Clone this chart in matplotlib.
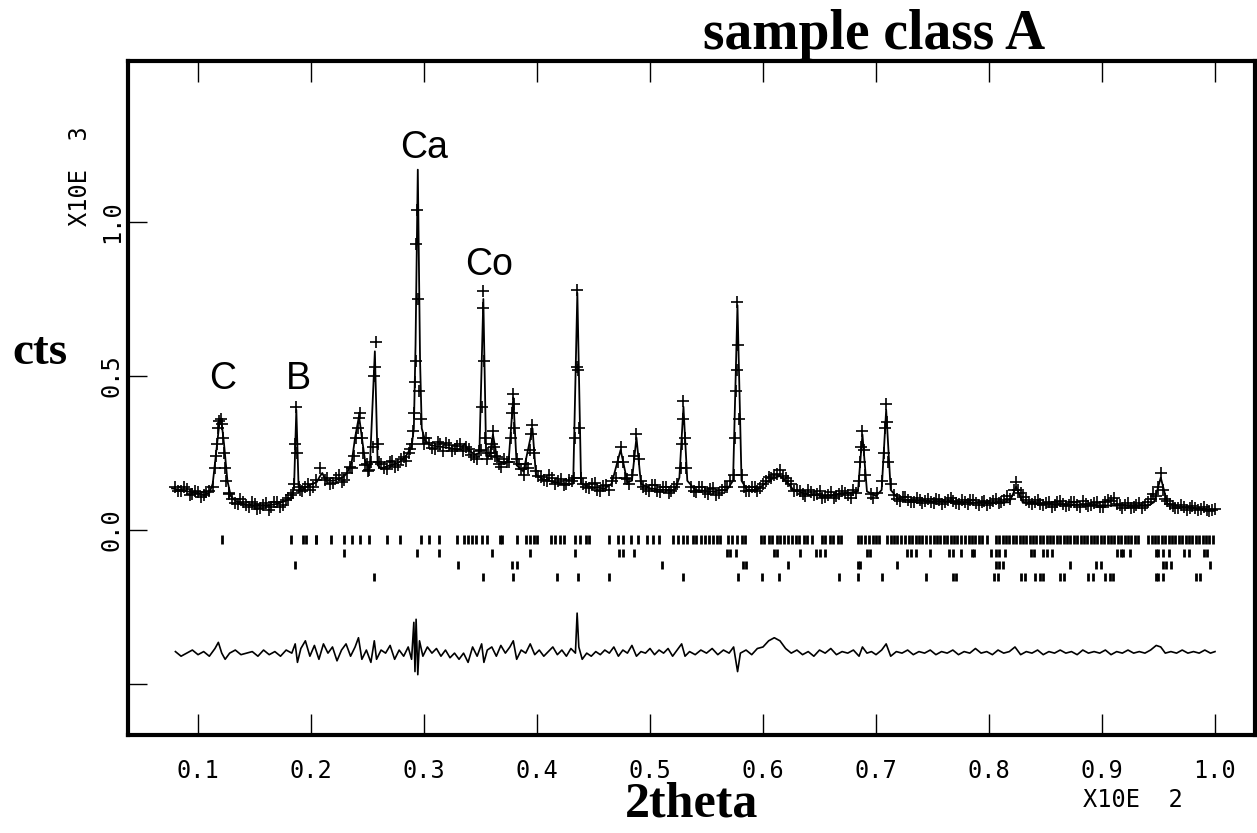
import numpy as np
import matplotlib
matplotlib.use("Agg")
import matplotlib.pyplot as plt

# observed points, background part (2theta x 1e-2, counts x 1e3)
obs_bg_x = [0.080, 0.085, 0.090, 0.095, 0.100, 0.105, 0.110,
            0.130, 0.135, 0.140, 0.145, 0.150, 0.155, 0.160, 0.165, 0.170, 0.175, 0.180,
            0.192, 0.197, 0.202, 0.208, 0.212, 0.217, 0.222, 0.227, 0.232,
            0.250, 0.262, 0.267, 0.272, 0.277, 0.282, 0.287,
            0.302, 0.307, 0.312, 0.317, 0.322, 0.327, 0.332, 0.337, 0.342, 0.347,
            0.357, 0.366, 0.371, 0.386, 0.390,
            0.401, 0.406, 0.411, 0.416, 0.421, 0.426, 0.431,
            0.441, 0.446, 0.451, 0.456, 0.461, 0.466, 0.480,
            0.494, 0.499, 0.504, 0.509, 0.514, 0.519, 0.524,
            0.536, 0.541, 0.546, 0.551, 0.556, 0.561, 0.566, 0.571,
            0.585, 0.590, 0.595, 0.600, 0.605, 0.610, 0.615, 0.620, 0.625, 0.630,
            0.635, 0.640, 0.645, 0.650, 0.655, 0.660, 0.665, 0.670, 0.675, 0.680,
            0.696, 0.716, 0.721, 0.726, 0.731, 0.736, 0.741, 0.746, 0.751, 0.756,
            0.761, 0.766, 0.771, 0.776, 0.781, 0.786, 0.791, 0.796, 0.801, 0.806,
            0.811, 0.816, 0.828, 0.833, 0.838, 0.843, 0.848, 0.853, 0.858, 0.863,
            0.868, 0.873, 0.878, 0.883, 0.888, 0.893, 0.898, 0.903, 0.908, 0.913,
            0.918, 0.923, 0.928, 0.933, 0.938, 0.943,
            0.960, 0.965, 0.970, 0.975, 0.980, 0.985, 0.990, 0.995, 1.000]
obs_bg_y = [0.138, 0.128, 0.133, 0.118, 0.124, 0.112, 0.128,
            0.100, 0.085, 0.092, 0.075, 0.083, 0.070, 0.086, 0.074, 0.090, 0.082, 0.105,
            0.128, 0.150, 0.138, 0.200, 0.162, 0.148, 0.170, 0.155, 0.185,
            0.190, 0.215, 0.198, 0.225, 0.210, 0.238, 0.250,
            0.300, 0.265, 0.285, 0.258, 0.276, 0.262, 0.280, 0.270, 0.245, 0.232,
            0.250, 0.215, 0.232, 0.198, 0.215,
            0.175, 0.162, 0.178, 0.150, 0.165, 0.148, 0.160,
            0.150, 0.135, 0.152, 0.128, 0.145, 0.160, 0.165,
            0.140, 0.128, 0.146, 0.122, 0.140, 0.125, 0.150,
            0.140, 0.122, 0.138, 0.118, 0.135, 0.120, 0.140, 0.160,
            0.125, 0.140, 0.128, 0.150, 0.172, 0.180, 0.195, 0.170, 0.150, 0.130,
            0.118, 0.130, 0.112, 0.125, 0.108, 0.122, 0.110, 0.125, 0.112, 0.130,
            0.118, 0.112, 0.095, 0.108, 0.090, 0.104, 0.088, 0.100, 0.086, 0.098,
            0.090, 0.105, 0.088, 0.098, 0.085, 0.096, 0.082, 0.094, 0.088, 0.100,
            0.092, 0.110, 0.120, 0.098, 0.085, 0.096, 0.080, 0.092, 0.082, 0.095,
            0.078, 0.090, 0.080, 0.094, 0.078, 0.088, 0.076, 0.090, 0.095, 0.085,
            0.072, 0.086, 0.074, 0.088, 0.080, 0.100,
            0.085, 0.070, 0.082, 0.066, 0.078, 0.064, 0.074, 0.060, 0.068]

# second interleaved set of background points
obs_bg2_x = [0.0825, 0.0875, 0.0925, 0.0975, 0.1025, 0.1075,
             0.1275, 0.1325, 0.1375, 0.1425, 0.1475, 0.1525, 0.1575, 0.1625, 0.1675, 0.1725, 0.1775, 0.1825,
             0.1945, 0.1995, 0.2045, 0.2145, 0.2195, 0.2245, 0.2295, 0.2345,
             0.2495, 0.2515, 0.2645, 0.2695, 0.2745, 0.2795, 0.2845, 0.2875,
             0.3045, 0.3095, 0.3145, 0.3195, 0.3245, 0.3295, 0.3345, 0.3395, 0.3445, 0.3485,
             0.3555, 0.3645, 0.3685, 0.3735, 0.3845, 0.3885,
             0.4035, 0.4085, 0.4135, 0.4185, 0.4235, 0.4285,
             0.4435, 0.4485, 0.4535, 0.4585, 0.4635, 0.4815,
             0.4965, 0.5015, 0.5065, 0.5115, 0.5165, 0.5215,
             0.5385, 0.5435, 0.5485, 0.5535, 0.5585, 0.5635, 0.5685,
             0.5835, 0.5875, 0.5925, 0.5975, 0.6025, 0.6075, 0.6125, 0.6175, 0.6225, 0.6275,
             0.6325, 0.6375, 0.6425, 0.6475, 0.6525, 0.6575, 0.6625, 0.6675, 0.6725, 0.6775, 0.6825,
             0.6975, 0.7005, 0.7185, 0.7235, 0.7285, 0.7335, 0.7385, 0.7435, 0.7485, 0.7535,
             0.7585, 0.7635, 0.7685, 0.7735, 0.7785, 0.7835, 0.7885, 0.7935, 0.7985, 0.8035,
             0.8085, 0.8135, 0.8185,
             0.8305, 0.8355, 0.8405, 0.8455, 0.8505, 0.8555, 0.8605, 0.8655, 0.8705, 0.8755,
             0.8805, 0.8855, 0.8905, 0.8955, 0.9005, 0.9055, 0.9105, 0.9155, 0.9205, 0.9255,
             0.9305, 0.9355, 0.9405, 0.9455,
             0.9575, 0.9625, 0.9675, 0.9725, 0.9775, 0.9825, 0.9875, 0.9925, 0.9975]
obs_bg2_y = [0.125, 0.140, 0.115, 0.128, 0.108, 0.122,
             0.118, 0.088, 0.100, 0.080, 0.090, 0.068, 0.082, 0.066, 0.092, 0.076, 0.098, 0.112,
             0.140, 0.130, 0.162, 0.170, 0.152, 0.178, 0.162, 0.205,
             0.215, 0.195, 0.202, 0.222, 0.205, 0.230, 0.225, 0.262,
             0.282, 0.262, 0.278, 0.282, 0.255, 0.272, 0.255, 0.262, 0.238, 0.255,
             0.232, 0.238, 0.205, 0.222, 0.215, 0.180,
             0.172, 0.158, 0.168, 0.160, 0.145, 0.162,
             0.140, 0.148, 0.130, 0.142, 0.130, 0.150,
             0.132, 0.145, 0.128, 0.138, 0.120, 0.138,
             0.128, 0.140, 0.122, 0.132, 0.115, 0.130, 0.138,
             0.140, 0.125, 0.138, 0.135, 0.160, 0.168, 0.182, 0.175, 0.158, 0.125,
             0.125, 0.110, 0.122, 0.118, 0.105, 0.115, 0.105, 0.118, 0.120, 0.105, 0.120,
             0.105, 0.120, 0.100, 0.108, 0.098, 0.092, 0.098, 0.095, 0.090, 0.100,
             0.084, 0.098, 0.095, 0.084, 0.092, 0.098, 0.086, 0.092, 0.080, 0.095,
             0.086, 0.098, 0.102,
             0.108, 0.090, 0.092, 0.085, 0.088, 0.076, 0.090, 0.084, 0.082, 0.092,
             0.076, 0.085, 0.082, 0.090, 0.074, 0.098, 0.104, 0.080, 0.082, 0.070,
             0.080, 0.072, 0.090, 0.118,
             0.095, 0.078, 0.072, 0.076, 0.070, 0.072, 0.068, 0.066, 0.064]

# observed points on the Bragg peaks
obs_pk_x = [0.113, 0.115, 0.116, 0.117, 0.118, 0.119, 0.120, 0.121, 0.122, 0.123, 0.124, 0.125, 0.127,
            0.184, 0.185, 0.186, 0.187, 0.188, 0.189, 0.190,
            0.236, 0.238, 0.240, 0.2415, 0.2425, 0.2435, 0.245, 0.246, 0.248,
            0.253, 0.255, 0.256, 0.257, 0.2575, 0.259, 0.260,
            0.289, 0.2905, 0.291, 0.292, 0.2925, 0.293, 0.294, 0.295, 0.296, 0.297, 0.299, 0.300,
            0.350, 0.351, 0.352, 0.3525, 0.353, 0.354,
            0.359, 0.360, 0.361, 0.362, 0.363,
            0.375, 0.377, 0.378, 0.379, 0.3795, 0.380, 0.382,
            0.392, 0.394, 0.395, 0.396, 0.397, 0.399,
            0.433, 0.434, 0.435, 0.4357, 0.4365, 0.437, 0.439,
            0.470, 0.472, 0.474, 0.476, 0.478,
            0.484, 0.486, 0.488, 0.490, 0.492,
            0.527, 0.528, 0.529, 0.5296, 0.531, 0.532,
            0.574, 0.575, 0.576, 0.577, 0.5774, 0.578, 0.579, 0.581,
            0.685, 0.686, 0.687, 0.688, 0.689, 0.690,
            0.705, 0.707, 0.708, 0.709, 0.710, 0.711, 0.713,
            0.822, 0.824, 0.826,
            0.948, 0.950, 0.952, 0.954, 0.956]
obs_pk_y = [0.14, 0.20, 0.24, 0.28, 0.33, 0.355, 0.36, 0.345, 0.30, 0.25, 0.20, 0.16, 0.12,
            0.12, 0.15, 0.28, 0.40, 0.25, 0.14, 0.13,
            0.20, 0.24, 0.30, 0.33, 0.365, 0.38, 0.30, 0.25, 0.21,
            0.22, 0.27, 0.50, 0.53, 0.61, 0.28, 0.22,
            0.28, 0.32, 0.38, 0.48, 0.55, 0.93, 1.04, 0.75, 0.45, 0.36, 0.30, 0.28,
            0.26, 0.40, 0.72, 0.776, 0.55, 0.30,
            0.25, 0.28, 0.32, 0.27, 0.24,
            0.22, 0.30, 0.38, 0.44, 0.41, 0.33, 0.23,
            0.20, 0.26, 0.31, 0.34, 0.25, 0.19,
            0.17, 0.30, 0.53, 0.78, 0.52, 0.33, 0.17,
            0.17, 0.22, 0.27, 0.22, 0.17,
            0.18, 0.24, 0.31, 0.23, 0.16,
            0.20, 0.28, 0.36, 0.42, 0.30, 0.20,
            0.18, 0.30, 0.45, 0.52, 0.74, 0.60, 0.36, 0.18,
            0.16, 0.22, 0.27, 0.32, 0.26, 0.18,
            0.16, 0.25, 0.33, 0.41, 0.35, 0.22, 0.15,
            0.13, 0.155, 0.13,
            0.11, 0.14, 0.185, 0.13, 0.10]

# calculated profile
calc_x = [0.077, 0.085, 0.095, 0.105, 0.110, 0.113, 0.116, 0.119, 0.1205, 0.123, 0.126, 0.129,
          0.133, 0.140, 0.150, 0.160, 0.170, 0.178, 0.183, 0.185, 0.187, 0.189, 0.192, 0.198,
          0.205, 0.208, 0.210, 0.213, 0.220, 0.228, 0.232, 0.236, 0.239, 0.2425, 0.245, 0.248,
          0.252, 0.2565, 0.259, 0.262, 0.270, 0.278, 0.284, 0.289, 0.291, 0.2925, 0.2945, 0.2965,
          0.298, 0.301, 0.306, 0.315, 0.325, 0.333, 0.336, 0.339, 0.345, 0.349, 0.3525, 0.355,
          0.358, 0.361, 0.365, 0.372, 0.375, 0.379, 0.382, 0.388, 0.396, 0.399, 0.405, 0.415,
          0.425, 0.432, 0.4357, 0.439, 0.447, 0.460, 0.466, 0.474, 0.480, 0.484, 0.488, 0.492,
          0.500, 0.510, 0.522, 0.526, 0.5296, 0.533, 0.540, 0.555, 0.568, 0.5735, 0.5774, 0.581,
          0.586, 0.595, 0.603, 0.610, 0.615, 0.620, 0.627, 0.640, 0.655, 0.665, 0.684, 0.688,
          0.692, 0.700, 0.705, 0.709, 0.713, 0.720, 0.740, 0.760, 0.780, 0.800, 0.818, 0.824,
          0.830, 0.850, 0.880, 0.900, 0.920, 0.940, 0.946, 0.952, 0.958, 0.970, 0.985, 1.000]
calc_y = [0.135, 0.130, 0.122, 0.115, 0.120, 0.150, 0.250, 0.350, 0.360, 0.280, 0.160, 0.110,
          0.095, 0.085, 0.078, 0.078, 0.085, 0.095, 0.105, 0.140, 0.390, 0.140, 0.130, 0.145,
          0.155, 0.175, 0.185, 0.160, 0.160, 0.170, 0.185, 0.220, 0.300, 0.370, 0.300, 0.220,
          0.200, 0.580, 0.210, 0.200, 0.210, 0.220, 0.240, 0.270, 0.330, 0.600, 1.170, 0.550,
          0.330, 0.290, 0.275, 0.270, 0.265, 0.260, 0.280, 0.260, 0.245, 0.250, 0.750, 0.240,
          0.240, 0.310, 0.225, 0.215, 0.230, 0.430, 0.210, 0.190, 0.330, 0.180, 0.165, 0.155,
          0.150, 0.150, 0.770, 0.150, 0.140, 0.135, 0.150, 0.260, 0.155, 0.160, 0.300, 0.150,
          0.135, 0.130, 0.130, 0.170, 0.400, 0.160, 0.130, 0.125, 0.130, 0.160, 0.730, 0.160,
          0.130, 0.130, 0.155, 0.170, 0.175, 0.160, 0.130, 0.115, 0.110, 0.115, 0.125, 0.310,
          0.125, 0.110, 0.130, 0.390, 0.130, 0.100, 0.095, 0.092, 0.090, 0.087, 0.090, 0.140,
          0.088, 0.085, 0.082, 0.080, 0.078, 0.078, 0.090, 0.170, 0.085, 0.075, 0.070, 0.065]

# difference curve (obs - calc), shifted below the pattern
diff_x = [0.080, 0.085, 0.090, 0.095, 0.100, 0.105, 0.110, 0.115, 0.118, 0.121, 0.124, 0.128,
          0.133, 0.138, 0.143, 0.148, 0.153, 0.158, 0.163, 0.168, 0.173, 0.178, 0.183, 0.186,
          0.188, 0.191, 0.195, 0.199, 0.203, 0.207, 0.211, 0.215, 0.219, 0.223, 0.227, 0.231,
          0.235, 0.239, 0.242, 0.245, 0.249, 0.253, 0.256, 0.258, 0.262, 0.266, 0.270, 0.274,
          0.278, 0.282, 0.286, 0.289, 0.291, 0.292, 0.293, 0.2945, 0.296, 0.299, 0.303, 0.307,
          0.311, 0.315, 0.319, 0.323, 0.327, 0.331, 0.335, 0.339, 0.343, 0.347, 0.351, 0.353,
          0.356, 0.360, 0.364, 0.368, 0.372, 0.376, 0.379, 0.382, 0.386, 0.390, 0.394, 0.398,
          0.402, 0.406, 0.410, 0.414, 0.418, 0.422, 0.426, 0.430, 0.434, 0.4355, 0.437, 0.440,
          0.444, 0.448, 0.452, 0.456, 0.460, 0.464, 0.468, 0.472, 0.476, 0.480, 0.484, 0.488,
          0.492, 0.496, 0.500, 0.504, 0.508, 0.512, 0.516, 0.520, 0.524, 0.528, 0.531, 0.535,
          0.540, 0.545, 0.550, 0.555, 0.560, 0.565, 0.570, 0.574, 0.5775, 0.580, 0.585, 0.590,
          0.595, 0.600, 0.605, 0.610, 0.615, 0.620, 0.625, 0.630, 0.635, 0.640, 0.645, 0.650,
          0.655, 0.660, 0.665, 0.670, 0.675, 0.680, 0.685, 0.688, 0.692, 0.696, 0.700, 0.705,
          0.709, 0.713, 0.718, 0.723, 0.728, 0.733, 0.738, 0.743, 0.748, 0.753, 0.758, 0.763,
          0.768, 0.773, 0.778, 0.783, 0.788, 0.793, 0.798, 0.803, 0.808, 0.813, 0.818, 0.823,
          0.828, 0.833, 0.838, 0.843, 0.848, 0.853, 0.858, 0.863, 0.868, 0.873, 0.878, 0.883,
          0.888, 0.893, 0.898, 0.903, 0.908, 0.913, 0.918, 0.923, 0.928, 0.933, 0.938, 0.943,
          0.948, 0.952, 0.956, 0.961, 0.966, 0.971, 0.976, 0.981, 0.986, 0.991, 0.996, 1.000]
diff_y = [-0.395, -0.410, -0.400, -0.390, -0.405, -0.395, -0.410, -0.385, -0.365, -0.400, -0.420, -0.400,
          -0.390, -0.405, -0.400, -0.395, -0.410, -0.390, -0.405, -0.395, -0.410, -0.390, -0.400, -0.370,
          -0.430, -0.385, -0.360, -0.410, -0.375, -0.420, -0.370, -0.400, -0.380, -0.425, -0.390, -0.370,
          -0.410, -0.380, -0.350, -0.420, -0.390, -0.430, -0.360, -0.420, -0.390, -0.400, -0.375, -0.420,
          -0.390, -0.410, -0.380, -0.420, -0.300, -0.460, -0.290, -0.470, -0.360, -0.410, -0.380, -0.400,
          -0.385, -0.410, -0.390, -0.415, -0.400, -0.420, -0.400, -0.430, -0.380, -0.410, -0.370, -0.430,
          -0.390, -0.380, -0.410, -0.375, -0.400, -0.380, -0.360, -0.420, -0.390, -0.400, -0.370, -0.405,
          -0.390, -0.410, -0.395, -0.380, -0.405, -0.390, -0.410, -0.385, -0.400, -0.270, -0.380, -0.420,
          -0.400, -0.410, -0.395, -0.405, -0.390, -0.400, -0.380, -0.410, -0.390, -0.400, -0.375, -0.410,
          -0.395, -0.400, -0.385, -0.405, -0.390, -0.400, -0.385, -0.410, -0.390, -0.370, -0.410, -0.395,
          -0.405, -0.390, -0.400, -0.385, -0.405, -0.390, -0.400, -0.380, -0.460, -0.400, -0.390, -0.405,
          -0.385, -0.380, -0.360, -0.350, -0.360, -0.385, -0.400, -0.390, -0.405, -0.395, -0.410, -0.390,
          -0.400, -0.385, -0.405, -0.395, -0.400, -0.390, -0.410, -0.380, -0.400, -0.395, -0.405, -0.390,
          -0.370, -0.410, -0.395, -0.400, -0.390, -0.405, -0.395, -0.400, -0.390, -0.405, -0.395, -0.400,
          -0.390, -0.405, -0.395, -0.400, -0.385, -0.400, -0.395, -0.405, -0.390, -0.400, -0.395, -0.380,
          -0.405, -0.395, -0.400, -0.390, -0.405, -0.395, -0.400, -0.390, -0.400, -0.395, -0.405, -0.390,
          -0.400, -0.395, -0.400, -0.390, -0.405, -0.395, -0.400, -0.390, -0.400, -0.395, -0.400, -0.390,
          -0.375, -0.380, -0.400, -0.395, -0.400, -0.390, -0.400, -0.395, -0.400, -0.390, -0.400, -0.395]

# reflection positions, one list per phase row
refl_1 = [0.121, 0.182, 0.193, 0.196, 0.204, 0.2045, 0.218, 0.229, 0.236, 0.2435, 0.2515, 0.267,
          0.279, 0.2975, 0.304, 0.3135, 0.329, 0.3356, 0.339, 0.3427, 0.3462, 0.3515, 0.356, 0.3675,
          0.369, 0.382, 0.3905, 0.394, 0.3976, 0.400, 0.4127, 0.416, 0.4206, 0.424, 0.434, 0.438,
          0.443, 0.446, 0.464, 0.472, 0.4765, 0.483, 0.489, 0.497, 0.503, 0.508, 0.5207, 0.525,
          0.5296, 0.533, 0.538, 0.541, 0.545, 0.549, 0.552, 0.556, 0.559, 0.562,
          0.569, 0.573, 0.577, 0.581, 0.584,
          0.598, 0.601, 0.605, 0.608, 0.612, 0.615, 0.619, 0.622, 0.626, 0.629, 0.632, 0.636, 0.639, 0.643,
          0.652, 0.655, 0.659, 0.662, 0.666, 0.669,
          0.684, 0.687, 0.690, 0.694, 0.697, 0.700, 0.703,
          0.710, 0.713, 0.716, 0.719, 0.722, 0.726, 0.729, 0.732, 0.735, 0.738, 0.741, 0.744, 0.748,
          0.751, 0.754, 0.757, 0.760, 0.763, 0.766, 0.769, 0.772, 0.775, 0.779, 0.782, 0.785, 0.788,
          0.791, 0.794, 0.798,
          0.806, 0.809, 0.812, 0.815, 0.818, 0.821, 0.824, 0.827, 0.830, 0.833, 0.836, 0.839, 0.842,
          0.845, 0.848, 0.851, 0.854, 0.857, 0.860, 0.863, 0.866, 0.869, 0.872, 0.875, 0.878, 0.881,
          0.884, 0.887, 0.890, 0.893, 0.896, 0.899, 0.902, 0.905, 0.908, 0.911, 0.914, 0.917, 0.920,
          0.923, 0.926, 0.929, 0.932,
          0.941, 0.944, 0.947, 0.950, 0.953, 0.956, 0.959, 0.962, 0.965, 0.968, 0.971, 0.974, 0.977,
          0.980, 0.983, 0.986, 0.989, 0.992, 0.995, 0.998]
refl_2 = [0.229, 0.294, 0.3135, 0.360, 0.394, 0.434, 0.473, 0.4765, 0.486,
          0.568, 0.571, 0.576, 0.610, 0.612, 0.633, 0.647, 0.650, 0.655, 0.692, 0.695,
          0.727, 0.731, 0.735, 0.748, 0.765, 0.768, 0.775, 0.785, 0.787, 0.802, 0.806, 0.809,
          0.814, 0.837, 0.840, 0.848, 0.851, 0.856, 0.913, 0.917, 0.919, 0.925, 0.948, 0.950,
          0.954, 0.959, 0.973, 0.977, 0.990, 0.993]
refl_3 = [0.186, 0.330, 0.378, 0.382, 0.511, 0.582, 0.585, 0.622, 0.684, 0.686, 0.719,
          0.806, 0.809, 0.812, 0.872, 0.895, 0.899, 0.954, 0.957, 0.961, 0.996]
refl_4 = [0.256, 0.352, 0.379, 0.418, 0.436, 0.464, 0.529, 0.578, 0.599, 0.614, 0.667,
          0.684, 0.705, 0.744, 0.768, 0.771, 0.804, 0.808, 0.828, 0.832, 0.841, 0.845, 0.848,
          0.863, 0.866, 0.888, 0.892, 0.903, 0.907, 0.910, 0.948, 0.950, 0.954, 0.983, 0.987]
refl_rows = [refl_1, refl_2, refl_3, refl_4]
refl_levels = [-0.032, -0.075, -0.114, -0.153]

peak_labels = ["C", "B", "Ca", "Co"]
peak_label_x = [0.1215, 0.1885, 0.300, 0.358]
peak_label_y = [0.49, 0.49, 1.24, 0.86]

x_ticks = [0.1, 0.2, 0.3, 0.4, 0.5, 0.6, 0.7, 0.8, 0.9, 1.0]
x_tick_labels = ["0.1", "0.2", "0.3", "0.4", "0.5", "0.6", "0.7", "0.8", "0.9", "1.0"]
y_ticks = [-0.5, 0.0, 0.5, 1.0]
y_tick_labels = ["", "0.0", "0.5", "1.0"]

fig = plt.figure(figsize=(12.57, 8.33), dpi=100)
ax = fig.add_axes([0.1018, 0.1176, 0.8966, 0.8092])

ax.plot(obs_bg_x, obs_bg_y, "k+", ms=8, mew=1.2)
ax.plot(obs_bg2_x, obs_bg2_y, "k+", ms=8, mew=1.2)
ax.plot(obs_pk_x, obs_pk_y, "k+", ms=8, mew=1.2)
ax.plot(calc_x, calc_y, "k-", lw=1.3)
ax.plot(diff_x, diff_y, "k-", lw=1.2)

for pos, lev in zip(refl_rows, refl_levels):
    ax.vlines(pos, lev - 0.014, lev + 0.014, colors="k", lw=2)

for lab, lx, ly in zip(peak_labels, peak_label_x, peak_label_y):
    ax.text(lx, ly, lab, ha="center", va="center", fontsize=27, family="Liberation Sans")

ax.set_xlim(0.038, 1.0354)
ax.set_ylim(-0.666, 1.523)

ax.set_xticks(x_ticks)
ax.set_xticklabels(x_tick_labels, family="DejaVu Sans Mono", fontsize=17)
ax.set_yticks(y_ticks)
ax.set_yticklabels(y_tick_labels, family="DejaVu Sans Mono", fontsize=17,
                   rotation=90, va="center")
ax.tick_params(axis="x", direction="in", length=15, width=1, top=True, pad=17)
ax.tick_params(axis="y", direction="in", length=14, width=1, pad=3)
for s in ax.spines.values():
    s.set_linewidth(3)

fig.text(0.0636, 0.789, "X10E  3", rotation=90, ha="center", va="center",
         family="DejaVu Sans Mono", fontsize=17)
fig.text(0.901, 0.040, "X10E  2", ha="center", va="center",
         family="DejaVu Sans Mono", fontsize=17)
fig.text(0.695, 0.958, "sample class A", ha="center", va="center",
         family="Liberation Serif", fontweight="bold", fontsize=40)
fig.text(0.032, 0.576, "cts", ha="center", va="center",
         family="Liberation Serif", fontweight="bold", fontsize=34)
fig.text(0.5505, 0.034, "2theta", ha="center", va="center",
         family="Liberation Serif", fontweight="bold", fontsize=36)

fig.savefig("out.png", dpi=100, facecolor="white")
